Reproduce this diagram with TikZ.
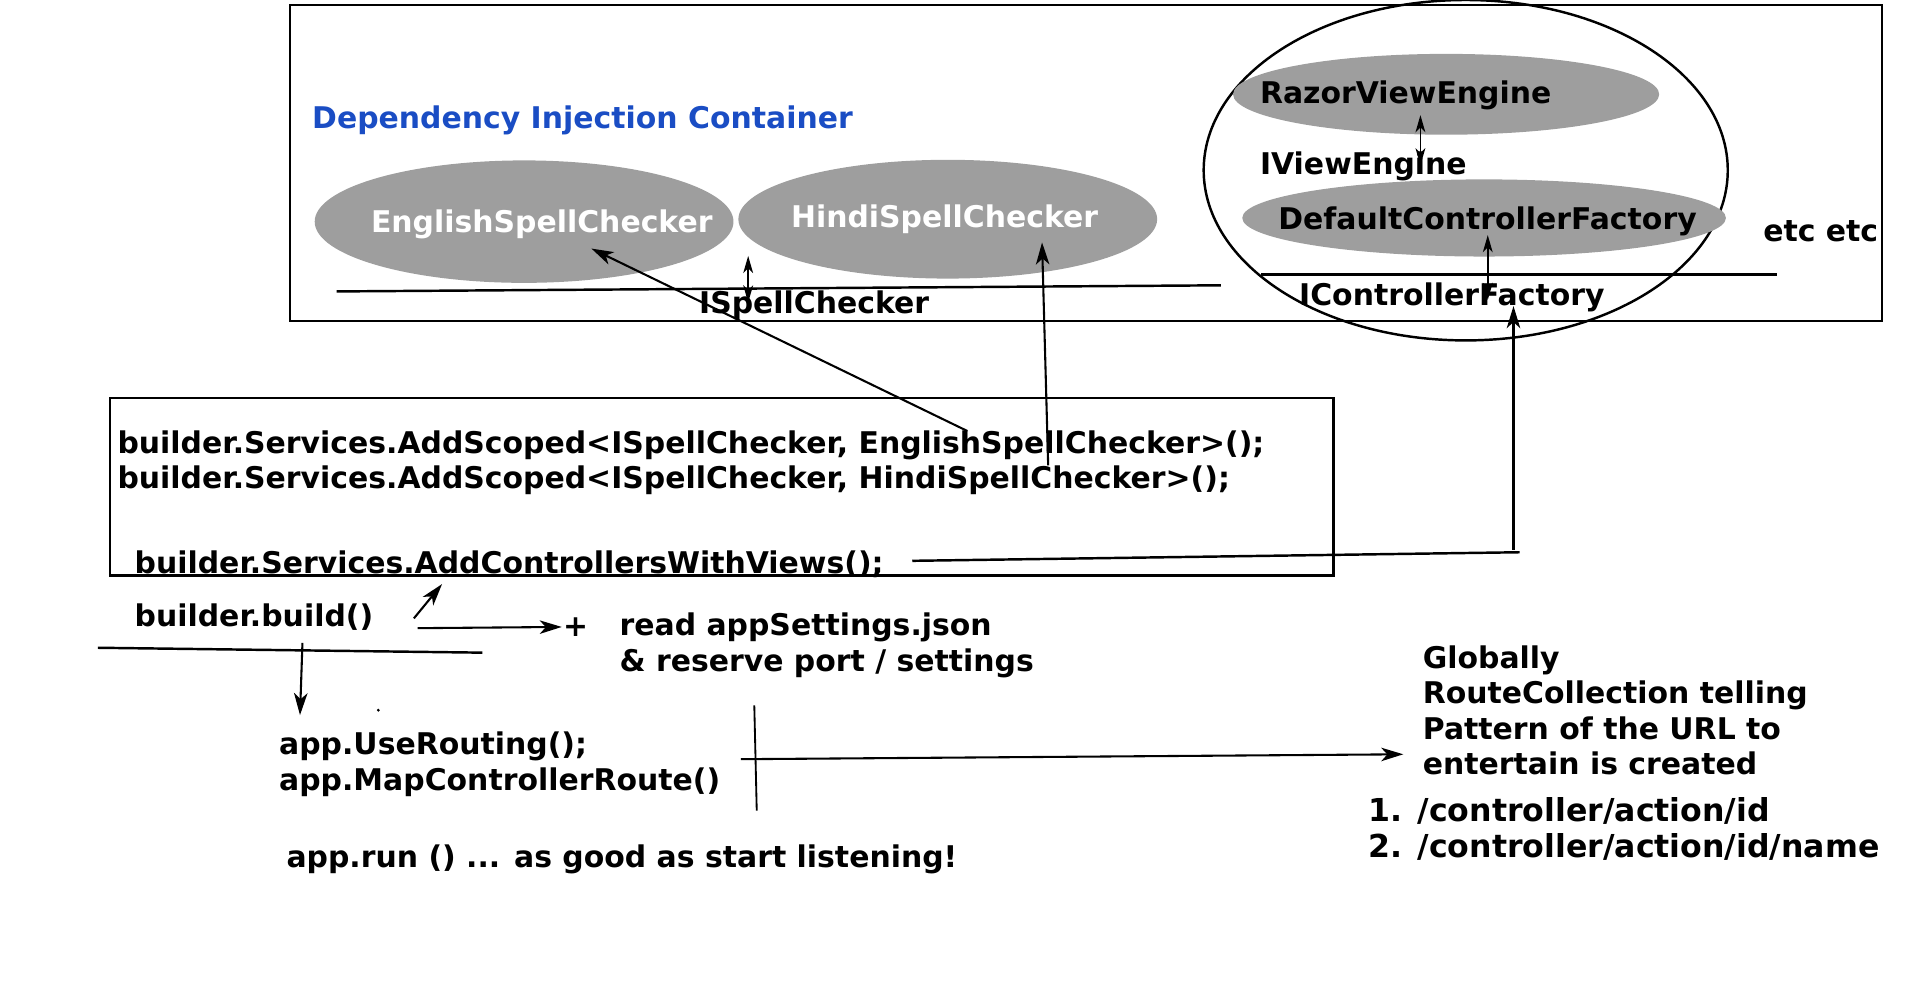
\documentclass[tikz,border=0pt]{standalone}
\usepackage{fontspec}
\setmainfont{DejaVu Sans}
\usepackage{tikz}
\usetikzlibrary{arrows.meta,shapes.geometric}
\definecolor{diblue}{HTML}{1A4DC4}
\definecolor{blobgray}{HTML}{9E9E9E}

\begin{document}
\begin{tikzpicture}[x=1pt,y=-1pt,line width=2pt,
    blob/.style={ellipse,fill=blobgray,inner sep=0pt},
    lbl/.style={anchor=west,inner sep=0pt,yshift=-2pt,align=left,font=\bfseries\fontsize{24.4}{29}\selectfont},
    arr/.style={line width=1.7pt,-{Stealth[length=18pt,width=11pt,inset=5pt]}},
    dbl/.style={line width=1.5pt,{Stealth[length=14pt,width=8pt,inset=4pt]}-{Stealth[length=14pt,width=8pt,inset=4pt]}}]
          \useasboundingbox (0,0) rectangle (1568,809);

          % container
          \draw (237,4) rectangle (1537,262);
          \node[lbl,text=diblue] (ditxt) at (254,96) {Dependency Injection Container};

          \node[blob,minimum width=342pt,minimum height=100pt] (eng) at (428,181) {};
          \node[blob,minimum width=342pt,minimum height=97pt] (hin) at (774,179) {};
          \node[lbl,text=white] (engtxt) at (302,181) {EnglishSpellChecker};
          \node[lbl,text=white] (hintxt) at (645,177) {HindiSpellChecker};
          \coordinate (isl0) at (275,238); \coordinate (isl1) at (997,233);
          \draw (isl0) -- (isl1);
          \node[lbl] (isc) at (570,247) {ISpellChecker};
          \coordinate (isa0) at (611,209); \coordinate (isa1) at (611,247);
          \draw[dbl] (isa0) -- (isa1);

          \node[draw,ellipse,inner sep=0pt,minimum width=428pt,minimum height=278pt] (mvc) at (1197,139) {};
          \node[blob,minimum width=348pt,minimum height=66pt] (rve) at (1181,77) {};
          \node[blob,minimum width=395pt,minimum height=63pt] (dcf) at (1212,178) {};
          \node[lbl] (rvetxt) at (1028,76) {RazorViewEngine};
          \node[lbl] (dcftxt) at (1043,179) {DefaultControllerFactory};
          \node[lbl] (ive) at (1028,134) {IViewEngine};
          \coordinate (iva0) at (1160,94); \coordinate (iva1) at (1160,135);
          \draw[dbl] (iva0) -- (iva1);
          \coordinate (icl0) at (1030,224); \coordinate (icl1) at (1451,224);
          \draw (icl0) -- (icl1);
          \node[lbl] (icf) at (1060,241) {IControllerFactory};
          \coordinate (ica0) at (1215,192); \coordinate (ica1) at (1215,245);
          \draw[dbl] (ica0) -- (ica1);
          \node[lbl] (etc) at (1439,187) {etc etc};

          % builder code
          \draw (90,325) rectangle (1089,470);
          \node[lbl] (reg1) at (95,362) {builder.Services.AddScoped<ISpellChecker, EnglishSpellChecker>();};
          \node[lbl] (reg2) at (95,390) {builder.Services.AddScoped<ISpellChecker, HindiSpellChecker>();};
          \node[lbl] (acv) at (109,459) {builder.Services.AddControllersWithViews();};
          \node[lbl] (build) at (109,502) {builder.build()};

          \coordinate (ea0) at (790,352); \coordinate (ea1) at (483,203);
          \draw[arr] (ea0) -- (ea1);
          \coordinate (ha0) at (856,380); \coordinate (ha1) at (851,198);
          \draw[arr] (ha0) -- (ha1);
          \coordinate (ca0) at (745,458); \coordinate (ca1) at (1241,451); \coordinate (ca2) at (1236,449); \coordinate (ca3) at (1236,250);
          \draw (ca0) -- (ca1);
          \draw[arr] (ca2) -- (ca3);

          \coordinate (ba0) at (338,505); \coordinate (ba1) at (361,477);
          \draw[arr] (ba0) -- (ba1);
          \node[lbl,anchor=center] (plus) at (470,510) {+};
          \coordinate (ra0) at (341,513);
          \draw[arr] (ra0) -- (plus.west);
          \node[lbl,font=\bfseries\fontsize{24.4}{30}\selectfont] (cfg) at (505,525) {read appSettings.json\\\& reserve port / settings};
          \coordinate (bl0) at (80,529); \coordinate (bl1) at (394,533);
          \draw (bl0) -- (bl1);
          \coordinate (da0) at (247,525); \coordinate (da1) at (245,584);
          \draw[arr] (da0) -- (da1);
          \fill (309,580) circle (1.3pt);

          \node[lbl] (route) at (227,622) {app.UseRouting();\\app.MapControllerRoute()};
          \coordinate (vl0) at (616,576); \coordinate (vl1) at (618,662);
          \draw[line width=1.5pt] (vl0) -- (vl1);
          \node[lbl] (glob) at (1161,578) {Globally\\RouteCollection telling\\Pattern of the URL to\\entertain is created};
          \coordinate (ga0) at (605,620); \coordinate (ga1) at (1146,616);
          \draw[arr] (ga0) -- (ga1);
          \node[lbl,font=\bfseries\fontsize{25.8}{30}\selectfont] (urls) at (1117,675) {1. /controller/action/id\\2. /controller/action/id/name};
          \node[lbl] (run) at (233,700) {app.run () ... as good as start listening!};
        \end{tikzpicture}
\end{document}
